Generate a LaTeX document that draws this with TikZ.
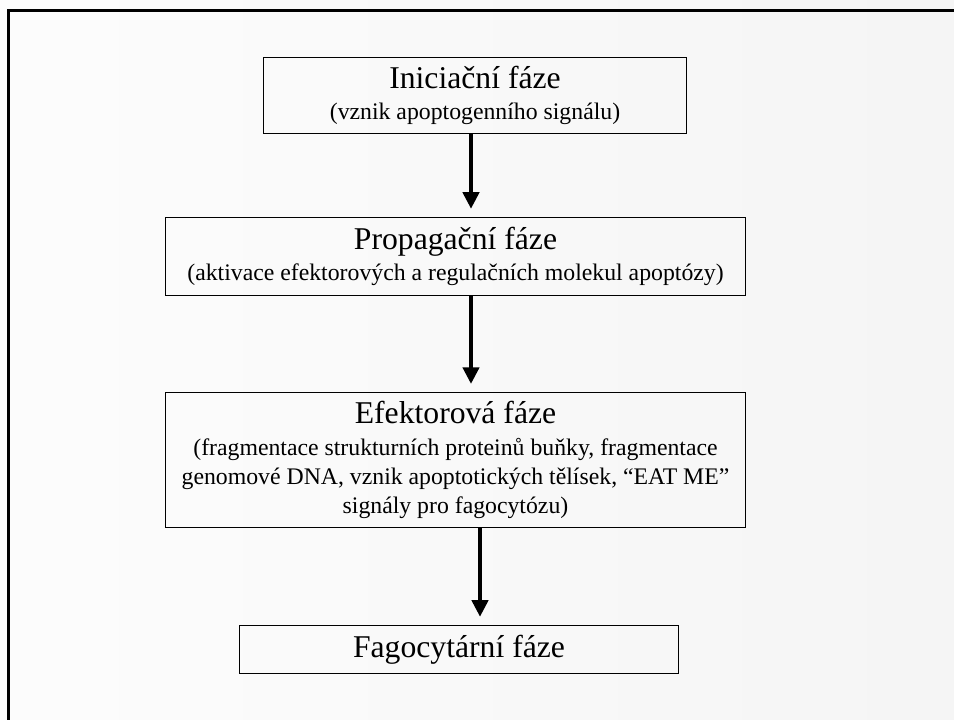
\documentclass[tikz,border=0pt]{standalone}
\usepackage{fontspec}
\setmainfont{Liberation Serif}
\usetikzlibrary{arrows.meta}

\newcommand{\nazev}[1]{{\fontsize{24}{22}\selectfont #1}}

\begin{document}
\begin{tikzpicture}[x=0.026625cm,y=-0.026625cm,
  faze/.style={draw,line width=0.8pt,rectangle,align=center,inner sep=0pt,
    font=\fontsize{18}{22}\selectfont},
  sipka/.style={line width=2.3pt,-{Triangle[length=12.5pt,width=12.5pt]},shorten >=6pt}]

\useasboundingbox (0,0) rectangle (954,720);
\shade[left color=white!99!black,right color=white!96!black] (0,0) rectangle (954,720);
\draw[line width=1.8pt] (8.5,720) -- (8.5,10.5) -- (954,10.5);

\node[faze,minimum width=320.3pt,minimum height=58.2pt] (f1) at (475,95.5)
  {\nazev{Iniciační fáze}\\[2pt] (vznik apoptogenního signálu)};
\node[faze,minimum width=439.7pt,minimum height=59.7pt] (f2) at (455.5,256.5)
  {\nazev{Propagační fáze}\\[2pt] (aktivace efektorových a regulačních molekul apoptózy)};
\node[faze,minimum width=439.7pt,minimum height=102.7pt] (f3) at (455.5,460)
  {\nazev{Efektorová fáze}\\[2pt] (fragmentace strukturních proteinů buňky, fragmentace\\
   genomové DNA, vznik apoptotických tělísek, “EAT ME”\\ signály pro fagocytózu)};
\node[faze,minimum width=332.4pt,minimum height=37pt] (f4) at (459,649.5)
  {\nazev{Fagocytární fáze}};

\coordinate (s1) at (471,0);
\coordinate (s2) at (471,0);
\coordinate (s3) at (480,0);

\draw[sipka] (f1.south -| s1) -- (f2.north -| s1);
\draw[sipka] (f2.south -| s2) -- (f3.north -| s2);
\draw[sipka] (f3.south -| s3) -- (f4.north -| s3);
\end{tikzpicture}
\end{document}
